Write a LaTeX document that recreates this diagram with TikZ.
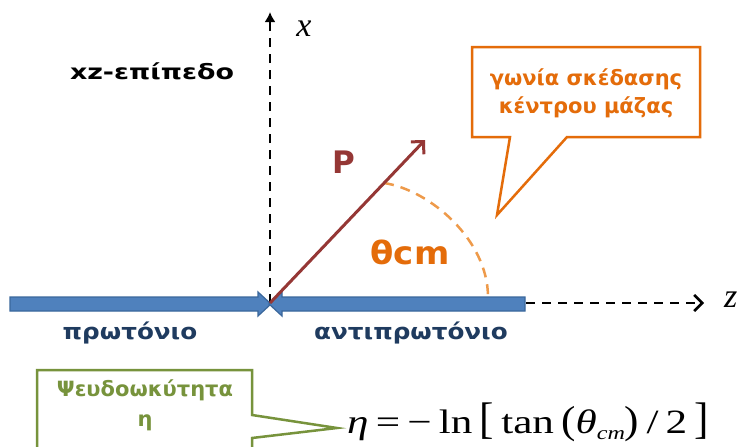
\documentclass[tikz,border=0pt]{standalone}
\usepackage{fontspec}
\setmainfont{DejaVu Sans}
\newfontfamily\serifx{Liberation Serif}
\usetikzlibrary{arrows.meta}
\definecolor{beamfill}{HTML}{4F81BD}
\definecolor{beamline}{HTML}{3A679C}
\definecolor{pcol}{HTML}{953735}
\definecolor{orng}{HTML}{E46C0A}
\definecolor{arcc}{HTML}{EE9A4A}
\definecolor{grn}{HTML}{77933C}
\definecolor{navy}{HTML}{1F3B5F}
\begin{document}
\begin{tikzpicture}[x=1pt,y=-1pt,
  axisline/.style={black, line width=2.6pt, dash pattern=on 9pt off 7pt},
  beam/.style={fill=beamfill, draw=beamline, line width=1.2pt},
  lbl/.style={font=\fontsize{22}{24}\selectfont\bfseries, inner sep=0pt},
]
\useasboundingbox (0,0) rectangle (737,447);
\fill[white] (0,0) rectangle (737,447);
\coordinate (O) at (270,303);
\coordinate (xtip) at (270,12);
\coordinate (zstart) at (526,303);
\coordinate (ztip) at (704,303);
\coordinate (ptip) at (425,140);
\coordinate (arcs) at (384,183);
\coordinate (arce) at (488,297);

\draw[axisline, -{Latex[length=10pt,width=11pt]}] (O) -- (xtip);
\draw[beam] (10,297) -- (258,297) -- (258,292) -- (271,304) -- (258,316) -- (258,311) -- (10,311) -- cycle;
\draw[beam] (525,297) -- (282,297) -- (282,292) -- (269,304) -- (282,316) -- (282,311) -- (525,311) -- cycle;
\draw[axisline, -{Straight Barb[length=8pt,width=16pt]}] (zstart) -- (ztip);
\draw[arcc, line width=2.5pt, dash pattern=on 10pt off 7pt] (arcs) .. controls (430,190) and (488,240) .. (arce);
\draw[pcol, line width=3pt, -{Straight Barb[length=9pt,width=18pt]}] (O) -- (ptip);

\node[font=\serifx\itshape\fontsize{34}{34}\selectfont, anchor=west, inner sep=0pt] (zl) at (724,300) {z};
\node[font=\serifx\itshape\fontsize{34}{34}\selectfont, inner sep=0pt] (xl) at (304,29) {x};

\node[lbl, black, font=\fontsize{21}{24}\selectfont\bfseries] (plane) at (152,71) {\scalebox{1.28}[1]{xz-επίπεδο}};
\node[lbl, navy] (prot) at (130,333) {\scalebox{1.12}[1]{πρωτόνιο}};
\node[lbl, navy] (aprot) at (411,333) {\scalebox{1.12}[1]{αντιπρωτόνιο}};
\node[font=\bfseries\fontsize{31}{31}\selectfont, pcol, inner sep=0pt] (P) at (344,162) {P};
\node[font=\bfseries\fontsize{32}{32}\selectfont, orng, inner sep=0pt] (theta) at (410,252) {\scalebox{1.06}[1]{θcm}};

\draw[orng, line width=2.5pt, fill=white] (510,137) -- (472,137) -- (472,47) -- (700,47) -- (700,137) -- (567,137) -- (497,215) -- cycle;
\node[orng, font=\bfseries\fontsize{21}{28}\selectfont, align=center] (cmtext) at (586,93) {γωνία σκέδασης\\κέντρου μάζας};

\draw[grn, line width=2.5pt, fill=white] (37,460) -- (37,370) -- (252,370) -- (252,415) -- (337,428) -- (252,438) -- (252,460);
\node[grn, font=\bfseries\fontsize{21}{30}\selectfont, align=center] (eta) at (145,405) {Ψευδοωκύτητα\\η};

\node[font=\serifx\fontsize{34}{34}\selectfont, anchor=west, inner sep=0pt] (formula) at (347,422) {\scalebox{1.27}[1]{{\itshape η}\,=\,−\,ln\,\scalebox{1}[1.3]{[}\,tan\,\scalebox{1}[1.15]{(}{\itshape θ}\raisebox{-0.18em}{\fontsize{19}{19}\selectfont\itshape cm}\scalebox{1}[1.15]{)}\,/\,2\,\scalebox{1}[1.3]{]}}};
\end{tikzpicture}
\end{document}
